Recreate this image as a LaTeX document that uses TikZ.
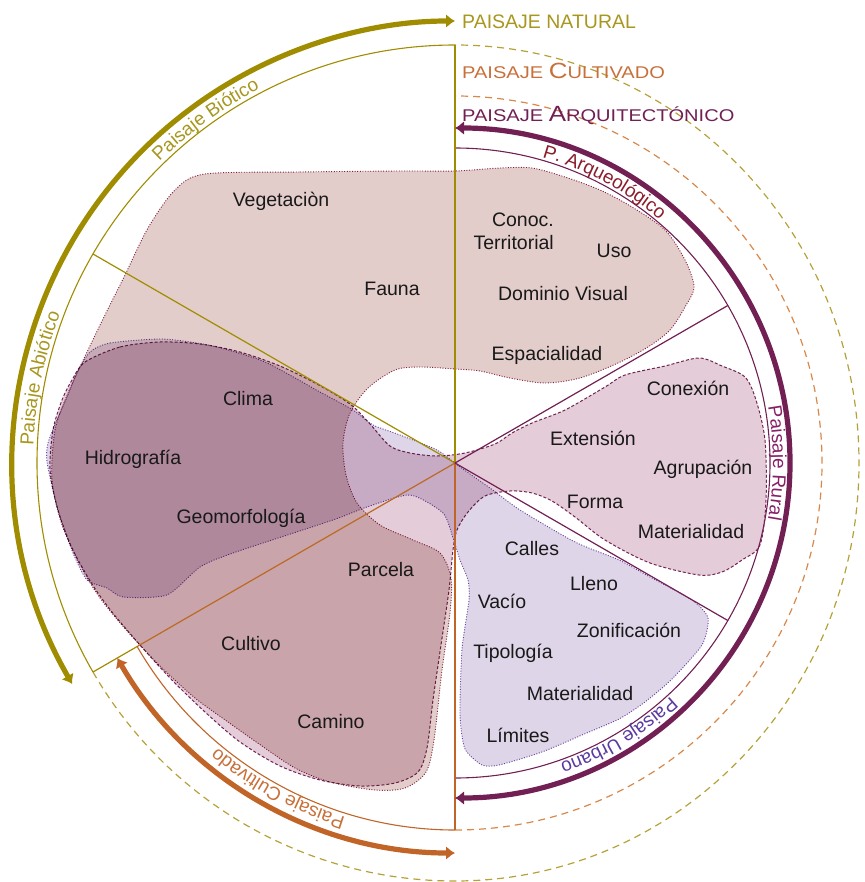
\documentclass[tikz,border=0pt]{standalone}
\usepackage{fontspec}
\setmainfont{Liberation Sans}
\newfontfamily\scfont[FakeStretch=1.18]{Liberation Sans}
\usetikzlibrary{arrows.meta,decorations.text}

\definecolor{natural}{HTML}{A08C00}
\definecolor{naturaltxt}{HTML}{A8961E}
\definecolor{naturaldash}{HTML}{B4A238}
\definecolor{cultivado}{HTML}{C06428}
\definecolor{cultivadotxt}{HTML}{C8703A}
\definecolor{cultivadodash}{HTML}{D8884A}
\definecolor{arquit}{HTML}{722054}
\definecolor{arqueo}{HTML}{8B1C2C}
\definecolor{rural}{HTML}{862068}
\definecolor{urbano}{HTML}{5A3AA0}
\definecolor{bioticofill}{HTML}{E3CDCA}
\definecolor{ruralfill}{HTML}{E4CCD8}
\definecolor{urbanofill}{HTML}{DFD5E8}
\definecolor{bioticoline}{HTML}{8B2545}
\definecolor{ruralline}{HTML}{7A2A5A}
\definecolor{urbanoline}{HTML}{6A4AAA}

\newcommand{\HeadSC}[2]{{\scfont\fontsize{17}{20}\selectfont PAISAJE }{\scfont\fontsize{22}{24}\selectfont #1}{\scfont\fontsize{17}{20}\selectfont #2}}

\tikzset{
  lbl/.style={font=\fontsize{19.5}{23}\selectfont, text=black!90, inner sep=0pt, anchor=base},
  head/.style={inner sep=0pt, anchor=base west},
  bigarc/.style={line width=5.2pt, {Latex[length=9pt,width=14pt]}-{Latex[length=9pt,width=14pt]}},
  ring/.style={line width=1.1pt},
  ringdash/.style={line width=1.2pt, dash pattern=on 7pt off 5pt},
  spoke/.style={line width=1.2pt},
  blobA/.style={fill=bioticofill, draw=bioticoline, line width=0.9pt, dash pattern=on 1pt off 1.6pt},
  blobD/.style={fill=ruralfill, draw=ruralline, line width=1pt, dash pattern=on 3pt off 2pt},
  blobE/.style={fill=urbanofill, draw=urbanoline, line width=0.9pt, dash pattern=on 1pt off 1.6pt},
  arclabel/.style={decorate, decoration={text along path, text align=center}},
}

\begin{document}
\begin{tikzpicture}[x=1pt,y=1pt]
  \useasboundingbox (0,0) rectangle (864,-882);
  \coordinate (O) at (455,-463);

  % Regions
  \begin{scope}[blend group=multiply]
    \filldraw[blobA] plot[smooth cycle, tension=0.5] coordinates {
      (205,-174) (300,-172) (400,-171) (455,-171) (500,-168) (532,-168) (565,-177) (600,-190)
      (632,-207) (665,-230) (685,-260) (694,-287) (685,-307) (670,-330) (648,-347) (618,-363)
      (580,-378) (545,-383) (510,-378) (480,-371) (455,-369) (420,-367) (395,-370) (368,-388)
      (350,-413) (343,-443) (346,-475) (357,-503) (380,-525) (413,-540) (440,-553) (451,-578)
      (450,-613) (442,-670) (434,-740) (426,-772) (405,-788) (375,-790) (330,-782) (295,-768)
      (262,-746) (228,-722) (195,-698) (160,-666) (128,-632) (100,-598) (80,-565) (62,-525)
      (52,-480) (55,-430) (68,-393) (88,-350) (105,-315) (125,-275) (148,-228) (175,-190)};
    \filldraw[blobD] plot[smooth cycle, tension=0.5] coordinates {
      (85,-362) (120,-347) (160,-342) (200,-344) (240,-352) (280,-366) (317,-384) (350,-404)
      (370,-424) (390,-446) (410,-453) (437,-456) (465,-453) (495,-444) (512,-433) (532,-423)
      (565,-410) (605,-387) (625,-375) (665,-366) (699,-358) (722,-366) (745,-377) (756,-400)
      (765,-440) (766,-500) (760,-545) (742,-560) (722,-572) (699,-575) (650,-563) (605,-540)
      (575,-517) (552,-501) (532,-493) (510,-491) (485,-496) (468,-512) (457,-530) (453,-550)
      (449,-590) (441,-645) (433,-700) (427,-748) (418,-772) (395,-783) (360,-786) (320,-780)
      (280,-766) (240,-742) (205,-712) (170,-678) (140,-645) (112,-612) (92,-584) (72,-548)
      (58,-510) (50,-470) (53,-430) (62,-400) (72,-380)};
    \filldraw[blobE] plot[smooth cycle, tension=0.4] coordinates {
      (90,-352) (110,-343) (163,-339) (213,-346) (265,-362) (320,-392) (353,-410) (373,-425)
      (400,-435) (437,-450) (460,-467) (490,-488) (520,-510) (575,-542) (619,-560) (650,-577)
      (692,-600) (708,-618) (702,-645) (672,-679) (645,-702) (619,-719) (582,-735) (542,-752)
      (499,-765) (482,-765) (465,-749) (460,-715) (462,-649) (469,-600) (468,-580) (460,-560)
      (453,-538) (443,-513) (410,-495) (367,-507) (333,-520) (233,-553) (200,-567) (167,-595)
      (123,-597) (107,-588) (87,-580) (73,-553) (57,-507) (47,-462) (48,-443) (57,-420)
      (67,-397) (77,-373)};
  \end{scope}

  % Rings
  \draw[ring, natural] ([shift={(90:418)}]O) arc[start angle=90, end angle=210, radius=418];
  \draw[ringdash, naturaldash] ([shift={(210:418)}]O) arc[start angle=210, end angle=270, radius=418]
    arc[start angle=270, end angle=450, x radius=404, y radius=418];
  \draw[ring, cultivado] ([shift={(210:367)}]O) arc[start angle=210, end angle=270, radius=367];
  \draw[ringdash, cultivadodash] ([shift={(270:367)}]O) arc[start angle=270, end angle=450, radius=367];
  \draw[ring, arquit] ([shift={(90:315)}]O) arc[start angle=90, end angle=-90, radius=315];

  % Spokes
  \draw[spoke, natural] (O) -- ([shift={(90:418)}]O);
  \draw[spoke, natural] (O) -- ([shift={(150:418)}]O);
  \draw[spoke, natural] ([shift={(210:367)}]O) -- ([shift={(210:418)}]O);
  \draw[spoke, cultivado!85!natural] (O) -- ([shift={(210:367)}]O);
  \draw[spoke, cultivado] (O) -- ([shift={(270:367)}]O);
  \draw[spoke, arquit] (O) -- ([shift={(30:315)}]O);
  \draw[spoke, arquit] (O) -- ([shift={(-30:315)}]O);

  % Arrows
  \draw[bigarc, natural] ([shift={(210:442)}]O) arc[start angle=210, end angle=90, radius=442];
  \draw[bigarc, cultivado] ([shift={(210:390)}]O) arc[start angle=210, end angle=270, radius=390];
  \draw[bigarc, arquit] ([shift={(-90:335)}]O) arc[start angle=-90, end angle=90, radius=335];

  % Arc labels
  \path[arclabel, decoration={text color=naturaltxt, text={|\fontsize{19}{18}\selectfont|Paisaje Biótico}}]
    ([shift={(150:422)}]O) arc[start angle=150, end angle=102, radius=422];
  \path[arclabel, decoration={text color=naturaltxt, text={|\fontsize{19}{18}\selectfont|Paisaje Abiótico}}]
    ([shift={(193:422)}]O) arc[start angle=193, end angle=144, radius=422];
  \path[arclabel, decoration={text color=cultivadotxt, text={|\fontsize{19}{18}\selectfont|Paisaje Cultivado}}]
    ([shift={(266:371)}]O) arc[start angle=266, end angle=217, radius=371];
  \path[arclabel, decoration={text color=arqueo, text={|\fontsize{19}{18}\selectfont|P. Arqueológico}}]
    ([shift={(92:318)}]O) arc[start angle=92, end angle=32, radius=318];
  \path[arclabel, decoration={text color=rural, text={|\fontsize{19}{18}\selectfont|Paisaje Rural}}]
    ([shift={(30:318)}]O) arc[start angle=30, end angle=-30, radius=318];
  \path[arclabel, decoration={text color=urbano, text={|\fontsize{19}{18}\selectfont|Paisaje Urbano}}]
    ([shift={(-29:318)}]O) arc[start angle=-29, end angle=-89, radius=318];

  % Headings
  \node[head, text=naturaltxt, font=\fontsize{19.5}{22}\selectfont] (natural) at (462,-29) {PAISAJE NATURAL};
  \node[head, text=cultivadotxt] (cultivadohead) at (462,-79) {\HeadSC{C}{ULTIVADO}};
  \node[head, text=arquit] (arquithead) at (462,-122) {\HeadSC{A}{RQUITECTÓNICO}};

  % Define nodes
  \node[lbl] (vegetacion) at (281,-207) {Vegetaciòn};
  \node[lbl] (fauna) at (392,-295) {Fauna};
  \node[lbl, anchor=base east, align=right] (conoc) at (554,-250) {Conoc.\\Territorial};
  \node[lbl] (uso) at (614,-258) {Uso};
  \node[lbl] (dominio) at (563,-300) {Dominio Visual};
  \node[lbl] (espacialidad) at (547,-360) {Espacialidad};
  \node[lbl] (conexion) at (688,-395) {Conexión};
  \node[lbl] (extension) at (593,-445) {Extensión};
  \node[lbl] (agrupacion) at (703,-474) {Agrupación};
  \node[lbl] (forma) at (595,-508) {Forma};
  \node[lbl] (matrural) at (691,-538) {Materialidad};
  \node[lbl] (clima) at (248,-405) {Clima};
  \node[lbl] (hidrografia) at (133,-464) {Hidrografía};
  \node[lbl] (geomorfologia) at (241,-523) {Geomorfología};
  \node[lbl] (parcela) at (381,-576) {Parcela};
  \node[lbl] (cultivo) at (251,-650) {Cultivo};
  \node[lbl] (camino) at (331,-728) {Camino};
  \node[lbl] (calles) at (532,-555) {Calles};
  \node[lbl] (lleno) at (594,-590) {Lleno};
  \node[lbl] (vacio) at (502,-608) {Vacío};
  \node[lbl] (zonificacion) at (629,-637) {Zonificación};
  \node[lbl] (tipologia) at (513,-658) {Tipología};
  \node[lbl] (maturbano) at (580,-700) {Materialidad};
  \node[lbl] (limites) at (518,-742) {Límites};
\end{tikzpicture}
\end{document}
